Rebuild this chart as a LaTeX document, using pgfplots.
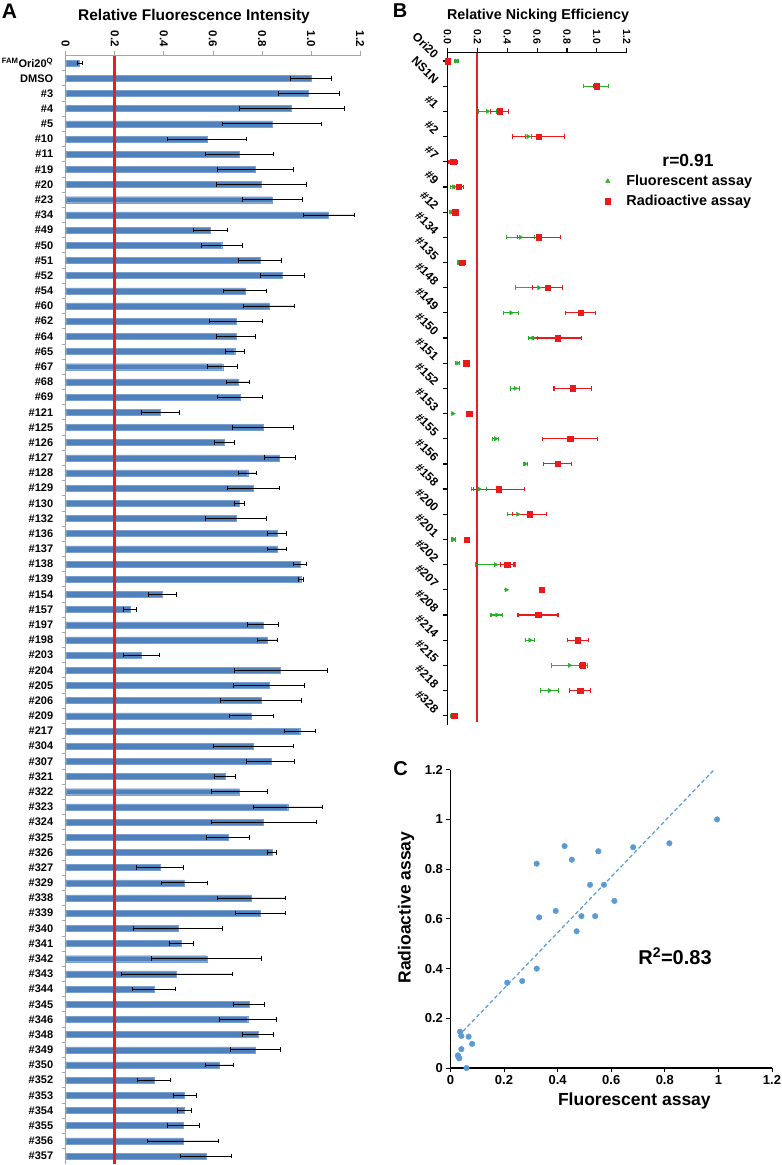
\documentclass[border=0pt]{standalone}
\usepackage{fontspec}
\setmainfont{Liberation Sans}
\usepackage{pgfplots}
\pgfplotsset{compat=1.18}
\usepackage{pgfplotstable}
\definecolor{barblue}{RGB}{79,129,189}
\definecolor{axgray}{RGB}{165,165,165}
\definecolor{vred}{RGB}{228,32,38}
\definecolor{mgreen}{RGB}{40,175,40}
\definecolor{mred}{RGB}{235,25,25}
\definecolor{sblue}{RGB}{91,155,213}
\newcommand{\fs}[1]{\fontsize{#1}{#1}\selectfont\bfseries}

\pgfplotstableread{
idx val err
0 0.056 0.010
1 1.000 0.084
2 0.990 0.125
3 0.921 0.215
4 0.840 0.201
5 0.575 0.162
6 0.708 0.137
7 0.774 0.155
8 0.796 0.183
9 0.842 0.122
10 1.072 0.105
11 0.590 0.068
12 0.636 0.084
13 0.792 0.088
14 0.882 0.090
15 0.731 0.087
16 0.829 0.105
17 0.694 0.109
18 0.694 0.079
19 0.689 0.039
20 0.640 0.061
21 0.702 0.046
22 0.711 0.092
23 0.385 0.077
24 0.804 0.125
25 0.647 0.042
26 0.872 0.064
27 0.742 0.037
28 0.764 0.107
29 0.708 0.020
30 0.694 0.125
31 0.861 0.039
32 0.861 0.039
33 0.955 0.026
34 0.958 0.011
35 0.393 0.058
36 0.262 0.026
37 0.804 0.064
38 0.821 0.041
39 0.308 0.075
40 0.876 0.189
41 0.829 0.144
42 0.796 0.166
43 0.757 0.088
44 0.954 0.064
45 0.764 0.163
46 0.836 0.098
47 0.649 0.042
48 0.708 0.114
49 0.905 0.141
50 0.807 0.215
51 0.662 0.087
52 0.840 0.019
53 0.385 0.095
54 0.485 0.094
55 0.758 0.139
56 0.793 0.103
57 0.457 0.182
58 0.471 0.049
59 0.575 0.224
60 0.452 0.226
61 0.360 0.087
62 0.747 0.064
63 0.742 0.117
64 0.784 0.064
65 0.774 0.101
66 0.626 0.058
67 0.360 0.067
68 0.485 0.048
69 0.485 0.029
70 0.478 0.065
71 0.478 0.144
72 0.571 0.103
}\dataA

\pgfplotstableread{
idx g ge r re
0 0.060 0.010 0.000 0.000
1 0.995 0.085 1.000 0.020
2 0.268 0.060 0.350 0.060
3 0.540 0.020 0.611 0.175
4 0.033 0.020 0.039 0.030
5 0.041 0.020 0.076 0.030
6 0.028 0.015 0.051 0.015
7 0.489 0.094 0.611 0.145
8 0.081 0.015 0.097 0.020
9 0.612 0.156 0.672 0.100
10 0.426 0.050 0.893 0.100
11 0.573 0.030 0.737 0.160
12 0.068 0.015 0.126 0.000
13 0.453 0.030 0.838 0.125
14 0.036 0.000 0.146 0.000
15 0.322 0.020 0.822 0.185
16 0.521 0.015 0.737 0.093
17 0.212 0.050 0.343 0.170
18 0.471 0.070 0.550 0.114
19 0.041 0.015 0.129 0.000
20 0.322 0.134 0.400 0.045
21 0.393 0.000 0.632 0.000
22 0.331 0.040 0.606 0.134
23 0.552 0.030 0.872 0.070
24 0.817 0.120 0.904 0.020
25 0.682 0.060 0.888 0.070
26 0.030 0.010 0.045 0.015
}\dataB

\begin{document}
\begin{tikzpicture}
\useasboundingbox (0,0) rectangle (782pt,-1165pt);

% ---------------- Panel A
\begin{axis}[
  at={(65.7pt,-1163.6pt)}, anchor=south west, scale only axis,
  width=294.4pt, height=1108.1pt,
  xmin=0, xmax=1.2, ymin=-0.5, ymax=72.5, y dir=reverse,
  axis x line*=top, axis y line*=left,
  axis line style={draw=axgray, line width=0.9pt},
  tick align=outside,
  xtick={0,0.2,0.4,0.6,0.8,1,1.2},
  xticklabels={0,0.2,0.4,0.6,0.8,1.0,1.2},
  xticklabel style={rotate=-90, anchor=east, font=\fs{11.5}},
  major x tick style={axgray, line width=0.8pt},
  major tick length=5pt,
  ytick={0,...,72},
  yticklabels={\textsuperscript{FAM}Ori20\textsuperscript{Q},DMSO,\#3,\#4,\#5,\#10,\#11,\#19,\#20,\#23,\#34,\#49,\#50,\#51,\#52,\#54,\#60,\#62,\#64,\#65,\#67,\#68,\#69,\#121,\#125,\#126,\#127,\#128,\#129,\#130,\#132,\#136,\#137,\#138,\#139,\#154,\#157,\#197,\#198,\#203,\#204,\#205,\#206,\#209,\#217,\#304,\#307,\#321,\#322,\#323,\#324,\#325,\#326,\#327,\#329,\#338,\#339,\#340,\#341,\#342,\#343,\#344,\#345,\#346,\#348,\#349,\#350,\#352,\#353,\#354,\#355,\#356,\#357},
  yticklabel style={font=\fs{11}, xshift=-4pt},
  major y tick style={draw=none},
  minor ytick={0.5,1.5,...,71.5},
  minor y tick style={axgray, line width=0.8pt},
  minor tick length=4pt,
  clip=false,
]
\addplot[xbar, bar width=6pt, fill=barblue, draw=barblue!75!white, line width=0.4pt,
  error bars/.cd, x dir=both, x explicit, error mark=|,
  error bar style={black, line width=0.7pt},
  error mark options={black, mark size=2.3pt, line width=0.7pt}]
  table[x=val, y=idx, x error=err]{\dataA};
\addplot[vred, line width=2.8pt] coordinates {(0.2,-0.45) (0.2,72.5)};
\end{axis}

% ---------------- Panel B
\begin{axis}[
  at={(447.5pt,-725pt)}, anchor=south west, scale only axis,
  width=179.2pt, height=672.3pt,
  xmin=0, xmax=1.2, ymin=-0.33, ymax=26.37, y dir=reverse,
  axis x line*=top, axis y line*=left,
  axis line style={black, line width=1.5pt},
  tick align=outside, tick style={black, line width=1.2pt},
  major tick length=5pt,
  xtick={0,0.2,0.4,0.6,0.8,1,1.2},
  xticklabels={0.0,0.2,0.4,0.6,0.8,1.0,1.2},
  xticklabel style={rotate=-90, anchor=east, font=\fs{10.5}},
  ytick={0,...,26},
  yticklabels={Ori20,NS1N,\#1,\#2,\#7,\#9,\#12,\#134,\#135,\#148,\#149,\#150,\#151,\#152,\#153,\#155,\#156,\#158,\#200,\#201,\#202,\#207,\#208,\#214,\#215,\#218,\#328},
  yticklabel style={rotate=-45, anchor=east, font=\fs{12}, xshift=-4pt, yshift=-1pt},
  clip=false,
  legend style={at={(axis description cs:0.862,0.794)}, anchor=west, draw=none, fill=none,
    font=\fontsize{14.4}{17}\selectfont\bfseries, row sep=4pt,
    /tikz/every odd column/.append style={column sep=14pt}},
  legend cell align=left,
]
\addplot[vred, line width=1.8pt, forget plot] coordinates {(0.2,-0.33) (0.2,26.25)};
\addplot[only marks, mark=triangle*, mark size=2.4pt, color=mgreen, mark options={rotate=-90, fill=mgreen}, forget plot,
  error bars/.cd, x dir=both, x explicit, error mark=|,
  error bar style={mgreen, line width=1.1pt},
  error mark options={mgreen, mark size=2.2pt, line width=1.1pt}]
  table[x=g, y=idx, x error=ge]{\dataB};
\addplot[only marks, mark=square*, mark size=2.7pt, color=mred, mark options={fill=mred}, forget plot,
  error bars/.cd, x dir=both, x explicit, error mark=|,
  error bar style={mred, line width=1.1pt},
  error mark options={mred, mark size=2.2pt, line width=1.1pt}]
  table[x=r, y=idx, x error=re]{\dataB};
\addlegendimage{only marks, mark=triangle*, mark size=2.6pt, color=mgreen, mark options={fill=mgreen}}
\addlegendentry{Fluorescent assay}
\addlegendimage{only marks, mark=square*, mark size=2.6pt, color=mred, mark options={fill=mred}}
\addlegendentry{Radioactive assay}
\node[font=\fs{17.5}] at (axis description cs:1.342,0.840) {r=0.91};
\end{axis}

% ---------------- Panel C
\begin{axis}[
  at={(450.4pt,-1068pt)}, anchor=south west, scale only axis,
  width=321.6pt, height=298.3pt,
  xmin=0, xmax=1.2, ymin=0, ymax=1.2,
  axis lines=left, axis line style={-, black, line width=1.2pt},
  tick align=outside, tick style={black, line width=1pt},
  major tick length=4pt,
  xtick={0,0.2,0.4,0.6,0.8,1,1.2},
  xticklabels={0,0.2,0.4,0.6,0.8,1,1.2},
  ytick={0,0.2,0.4,0.6,0.8,1,1.2},
  yticklabels={0,0.2,0.4,0.6,0.8,1,1.2},
  ticklabel style={font=\fs{13}},
  xlabel={Fluorescent assay}, ylabel={Radioactive assay},
  xlabel style={font=\fs{17.5}, at={(axis description cs:0.572,-0.111)}, anchor=center},
  ylabel style={font=\fs{17.5}, at={(axis description cs:-0.138,0.538)}, anchor=center},
  clip=false,
]
\addplot[sblue, line width=1.2pt, dash pattern=on 4pt off 2.5pt] coordinates {(0.03,0.129) (0.984,1.2)};
\addplot[only marks, mark=*, mark size=2.8pt, color=sblue, mark options={fill=sblue, draw=sblue}]
  table[x=g, y=r]{\dataB};
\node[font=\fs{20}] at (axis cs:0.838,0.45) {R\textsuperscript{2}=0.83};
\end{axis}

% titles and panel letters
\node[font=\fs{15.5}] at (194pt,-16.5pt) {Relative Fluorescence Intensity};
\node[font=\fs{14.3}] at (538pt,-16pt) {Relative Nicking Efficiency};
\node[font=\fs{21}] at (9.5pt,-11pt) {A};
\node[font=\fs{20}] at (400pt,-10.5pt) {B};
\node[font=\fs{20}] at (400.5pt,-768.5pt) {C};
\end{tikzpicture}
\end{document}
